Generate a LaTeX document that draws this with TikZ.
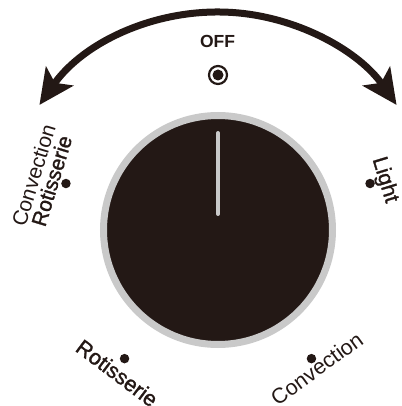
\documentclass[tikz,border=0pt]{standalone}
\usepackage{fontspec}
\setmainfont{Liberation Sans}
\newfontfamily\semibold[FakeBold=1.3]{Liberation Sans}
\usetikzlibrary{arrows.meta,positioning}
\definecolor{knobdark}{RGB}{35,24,21}
\definecolor{knobgray}{RGB}{201,201,201}
\tikzset{
  posdot/.style={
    circle, fill=knobdark, inner sep=0pt, minimum size=9.5pt
  },
  poslabel/.style={
    text=knobdark, inner sep=0pt, font=\fontsize{21.5}{19}\selectfont
  },
  poslabelB/.style={
    poslabel, font=\fontsize{21.5}{19}\selectfont\semibold
  },
  turnarrow/.style={
    {Stealth[length=35pt,width=33pt,inset=8pt]}-{Stealth[length=35pt,width=33pt,inset=8pt]},
    line width=7pt, draw=knobdark
  }
}

\begin{document}
\begin{tikzpicture}[x=1pt,y=1pt]
  \useasboundingbox (-218,-176) rectangle (183,230);
  % Knob
  \node[circle, fill=knobdark, draw=knobgray, line width=7pt,
        minimum size=229pt, inner sep=0pt] (knob) at (0,0) {};
  \coordinate (tipA) at (0,97);
  \coordinate (tipB) at (0,16);
  \draw[knobgray, line width=4pt, line cap=round] (tipA) -- (tipB);
  % Turning arrow
  \coordinate (arcL) at (145:218pt);
  \draw[turnarrow] (arcL) arc[start angle=145, end angle=35, radius=218pt];
  % OFF position
  \node[poslabel, font=\fontsize{17.5}{18}\selectfont\bfseries] (off) at (-0.5,189) {OFF};
  \node[circle, draw=knobdark, line width=2.2pt, minimum size=18pt,
        inner sep=0pt] (offring) at (0,155) {};
  \node[posdot, minimum size=11pt] (offdot) at (offring) {};
  % Position dots
  \foreach \a/\nm in {163/convrot, 17/light, 234/rotis, -54/conv} {
    \node[posdot] (dot-\nm) at (\a:159pt) {};
  }
  % Position labels
  \node[poslabel, font=\fontsize{21}{19}\selectfont, align=center, rotate=73]
    (lbl-convrot) at (163.5:183pt) {Convection\\{\semibold Rotisserie}};
  \node[poslabelB, rotate=-73] (lbl-light) at (16.7:174pt) {Light};
  \node[poslabelB, rotate=-37] (lbl-rotis) at (234.8:175pt) {Rotisserie};
  \node[poslabel, rotate=36] (lbl-conv) at (-54.5:170pt) {Convection};
\end{tikzpicture}
\end{document}
